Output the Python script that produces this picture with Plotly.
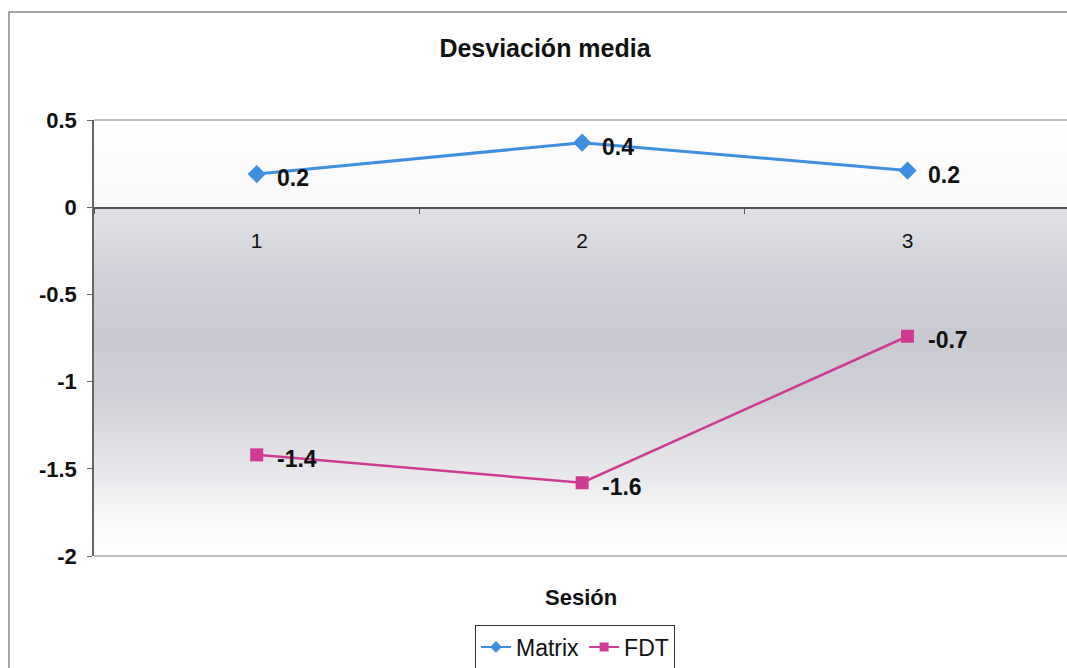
import plotly.graph_objects as go

# Sessions and mean deviation per method
sesiones = ["1", "2", "3"]
matrix = [0.19, 0.37, 0.21]
fdt = [-1.42, -1.58, -0.74]

y_ticks = [0.5, 0, -0.5, -1, -1.5, -2]
y_tick_labels = ["0.5", "0", "-0.5", "-1", "-1.5", "-2"]

# Plot-area background shading (level -> shade 0..1)
bg_levels = [0.5, 0.25, 0.005, -0.005, -0.4, -0.75, -1.1, -1.5, -1.8, -2.0]
bg_shade = [0.02, 0.06, 0.12, 0.55, 0.85, 1.0, 0.85, 0.45, 0.12, 0.02]

BLUE = "#3f8fe0"
MAGENTA = "#cf3a93"
FONT = "Liberation Sans, Arial, sans-serif"

fig = go.Figure()

# shading drawn first so the series sit on top of it
fig.add_trace(go.Heatmap(
    x=sesiones, y=bg_levels, z=[[s] * len(sesiones) for s in bg_shade],
    colorscale=[[0, "#ffffff"], [1, "#c8c9d1"]], zmin=0, zmax=1,
    zsmooth="best", showscale=False, hoverinfo="skip", showlegend=False,
))

series = [
    ("Matrix", matrix, BLUE, "diamond", 14, 3),
    ("FDT", fdt, MAGENTA, "square", 13, 2.5),
]

for name, vals, color, symbol, msize, lw in series:
    fig.add_trace(go.Scatter(
        x=sesiones, y=vals, name=name, mode="lines+markers",
        line=dict(color=color, width=lw),
        marker=dict(symbol=symbol, size=msize, color=color),
        showlegend=False,
    ))
    # legend entry with a lighter symbol
    fig.add_trace(go.Scatter(
        x=[None], y=[None], name=name, mode="lines+markers",
        line=dict(color=color, width=2),
        marker=dict(symbol=symbol, size=9, color=color),
    ))

# value labels to the right of each point (category index on the x axis)
annotations = []
for vals in (matrix, fdt):
    for idx, v in enumerate(vals):
        annotations.append(dict(
            x=idx, y=v, xref="x", yref="y", text=f"<b>{v:.1f}</b>",
            showarrow=False, xanchor="left", yanchor="middle",
            xshift=18, yshift=-4,
            font=dict(family=FONT, size=23, color="#111111"),
        ))

W, H = 1067, 668
L, T, B = 94, 120, 112
PW, PH = W - L, H - T - B
zero_pos = (556 - 208) / (556 - 120)

annotations.append(dict(
    text="<b>Sesión</b>", xref="paper", yref="paper",
    x=(581 - L) / PW, y=-(597 - 556) / PH,
    xanchor="center", yanchor="middle", showarrow=False,
    font=dict(family=FONT, size=22, color="#111111"),
))

fig.update_layout(
    width=W, height=H,
    margin=dict(l=L, r=0, t=T, b=B),
    paper_bgcolor="white", plot_bgcolor="white",
    font=dict(family=FONT, color="#111111"),
    title=dict(text="<b>Desviación media</b>", x=545 / W, xanchor="center",
               y=1 - 48 / H, yanchor="middle",
               font=dict(family=FONT, size=25, color="#111111")),
    showlegend=True,
    legend=dict(orientation="h", x=(575 - L) / PW, xanchor="center",
                y=1 - 647 / H, yref="container", yanchor="middle",
                bgcolor="white", bordercolor="#333333", borderwidth=1,
                font=dict(family=FONT, size=23, color="#111111"),
                itemwidth=30, tracegroupgap=0),
    xaxis=dict(type="category", range=[-0.5, 2.49], anchor="free",
               position=zero_pos, showline=True, linecolor="#555555",
               linewidth=1.5, ticks="outside", tickson="boundaries",
               ticklen=5, tickcolor="#555555", ticklabelstandoff=14,
               tickfont=dict(family=FONT, size=21, color="#111111"),
               showgrid=False, zeroline=False, fixedrange=True),
    yaxis=dict(range=[-2, 0.5], tickvals=y_ticks, ticktext=y_tick_labels,
               showline=True, linecolor="#666666", linewidth=1.5,
               ticks="outside", ticklen=5, tickcolor="#666666",
               ticklabelstandoff=6,
               tickfont=dict(family=FONT, size=22, color="#111111",
                             weight="bold"),
               showgrid=False, zeroline=False, fixedrange=True),
    shapes=[
        # chart-area frame
        dict(type="rect", xref="paper", yref="paper",
             x0=(9 - L) / PW, x1=1.05,
             y0=-0.5, y1=1 + (T - 12) / PH,
             line=dict(color="#888888", width=1.5), layer="below"),
        # plot-area top and bottom borders
        dict(type="line", xref="paper", yref="paper", x0=0, x1=1, y0=1, y1=1,
             line=dict(color="#a8a8a8", width=1.5)),
        dict(type="line", xref="paper", yref="paper", x0=0, x1=1, y0=0, y1=0,
             line=dict(color="#a8a8a8", width=1.5)),
    ],
    annotations=annotations,
)

fig.write_html("out.html")
